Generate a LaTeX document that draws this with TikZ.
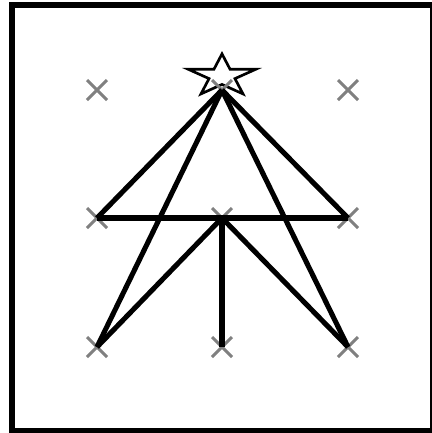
\documentclass[tikz,border=0pt]{standalone}
\begin{document}
\begin{tikzpicture}[x=0.75pt, y=-0.75pt,
    frame/.style={draw, line width=4.5pt},
    mk/.style={draw=gray, line width=2.2pt},
    edge/.style={draw, line width=3.8pt},
    starline/.style={draw, fill=white, line width=2pt, line join=miter}]
  \useasboundingbox (0,0) rectangle (432,433);
  \draw[frame] (12,5) rectangle (433,430.5);
  \coordinate (tl) at (97,90);
  \coordinate (tc) at (222,90);
  \coordinate (tr) at (348,90);
  \coordinate (ml) at (97,218);
  \coordinate (mc) at (222,218);
  \coordinate (mr) at (348,218);
  \coordinate (bl) at (97,347);
  \coordinate (bc) at (222,347);
  \coordinate (br) at (348,347);
  \begin{scope}[shift={(222,76)}]
    \draw[starline] (-90:35.7 and 22.1)
      \foreach \i in {1,...,9} { -- ({-90+36*\i}:{35.7*(1-0.618*mod(\i,2))} and {22.1*(1-0.618*mod(\i,2))}) } -- cycle;
  \end{scope}
  \foreach \p in {tl,tc,tr,ml,mc,mr,bl,bc,br}
    \draw[mk] (\p) +(-10,-10) -- +(10,10) +(-10,10) -- +(10,-10);
  \draw[edge] (tc) -- (ml);
  \draw[edge] (tc) -- (mr);
  \draw[edge] (ml) -- (mr);
  \draw[edge] (tc) -- (bl);
  \draw[edge] (tc) -- (br);
  \draw[edge] (mc) -- (bl);
  \draw[edge] (mc) -- (bc);
  \draw[edge] (mc) -- (br);
\end{tikzpicture}
\end{document}
